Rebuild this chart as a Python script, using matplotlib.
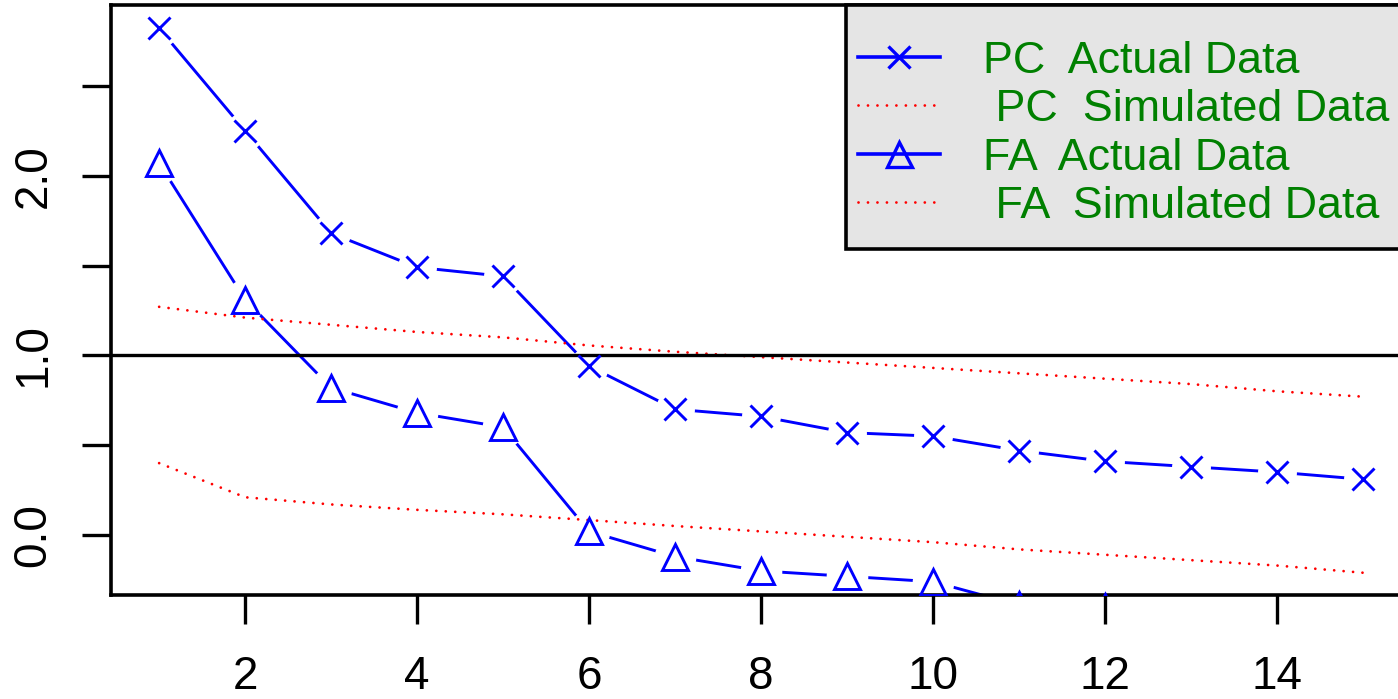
import matplotlib.pyplot as plt
from matplotlib.lines import Line2D
from matplotlib.patches import Rectangle
import numpy as np

plt.rcParams['font.family'] = ['Liberation Sans', 'DejaVu Sans']

factors = np.arange(1, 16)
pc_actual = [2.82, 2.25, 1.68, 1.49, 1.44, 0.94, 0.70, 0.66, 0.57, 0.55, 0.47, 0.41, 0.38, 0.35, 0.31]
pc_simulated = [1.27, 1.21, 1.17, 1.13, 1.10, 1.055, 1.02, 0.99, 0.96, 0.93, 0.90, 0.87, 0.84, 0.80, 0.77]
fa_actual = [2.07, 1.31, 0.82, 0.68, 0.60, 0.02, -0.12, -0.20, -0.23, -0.26, -0.39, -0.40, -0.45, -0.48, -0.52]
fa_simulated = [0.40, 0.21, 0.17, 0.14, 0.115, 0.083, 0.05, 0.02, -0.01, -0.04, -0.08, -0.11, -0.14, -0.17, -0.21]

legend_labels = ['  PC  Actual Data', '   PC  Simulated Data', '  FA  Actual Data', '   FA  Simulated Data']

W, H = 1398, 699
blue = '#0000ff'
red = '#ff0000'
green = '#008000'
dotted = (0, (0.01, 3.4))

fig = plt.figure(figsize=(W / 100, H / 100), dpi=100)
ax = fig.add_axes([111 / W, 1 - 595 / H, (1411 - 111) / W, 590 / H])

# lines first, then white halos to make R style "b" gaps, then markers
ax.plot(factors, pc_actual, color=blue, lw=2.1, zorder=2)
ax.plot(factors, fa_actual, color=blue, lw=2.1, zorder=2)
ax.plot(factors, pc_actual, 'o', color='white', ms=28, mew=0, zorder=2.5)
ax.plot(factors, fa_actual, 'o', color='white', ms=30, mew=0, zorder=2.5)
ax.plot(factors, pc_simulated, color=red, lw=2.0, ls=dotted, dash_capstyle='round', zorder=3)
ax.plot(factors, fa_simulated, color=red, lw=2.0, ls=dotted, dash_capstyle='round', zorder=3)
ax.axhline(1, color='black', lw=2.4, zorder=3)
ax.plot(factors, pc_actual, 'x', color=blue, ms=16, mew=2.1, zorder=4)
ax.plot(factors, fa_actual, '^', color=blue, ms=19, mew=2.1, mfc='none', zorder=4)

ax.set_xlim(0.44, 15.56)
ax.set_ylim(-0.334, 2.95)
ax.set_xticks(np.arange(2, 16, 2))
ax.set_yticks(np.arange(0, 3, 0.5))
ax.set_yticklabels(['0.0', '', '1.0', '', '2.0', ''], rotation=90, va='center')
ax.tick_params(labelsize=33, width=2.4, length=21, colors='black')
ax.tick_params(axis='x', pad=22)
ax.tick_params(axis='y', pad=19)
for s in ax.spines.values():
    s.set_linewidth(2.6)


# legend box drawn by hand (R style: grey box in the top right corner)
def fx(px):
    return px / W


def fy(py):
    return 1 - py / H


box = Rectangle((fx(846), fy(249)), fx(1430) - fx(846), fy(5) - fy(249),
                transform=fig.transFigure, facecolor='#e5e5e5',
                edgecolor='black', lw=2.6, zorder=5)
fig.add_artist(box)

leg_styles = [
    dict(color=blue, lw=2.6, ls='-'),
    dict(color=red, lw=2.0, ls=dotted, dash_capstyle='round'),
    dict(color=blue, lw=2.6, ls='-'),
    dict(color=red, lw=2.0, ls=dotted, dash_capstyle='round'),
]
leg_markers = [dict(marker='x', ms=16, mew=2.4), None,
               dict(marker='^', ms=18, mew=2.4, mfc='none'), None]
row_y = [56.5, 105, 153.5, 202]

for label, style, mk, cy in zip(legend_labels, leg_styles, leg_markers, row_y):
    fig.add_artist(Line2D([fx(858), fx(940)], [fy(cy), fy(cy)],
                          transform=fig.transFigure, zorder=6, **style))
    if mk:
        fig.add_artist(Line2D([fx(899)], [fy(cy)], color=blue, ls='none',
                              transform=fig.transFigure, zorder=6, **mk))
    fig.text(fx(958), fy(cy + 16.2), label, fontsize=32.3, color=green,
             va='baseline', ha='left', zorder=6)

plt.savefig('out.png')
plt.close()
